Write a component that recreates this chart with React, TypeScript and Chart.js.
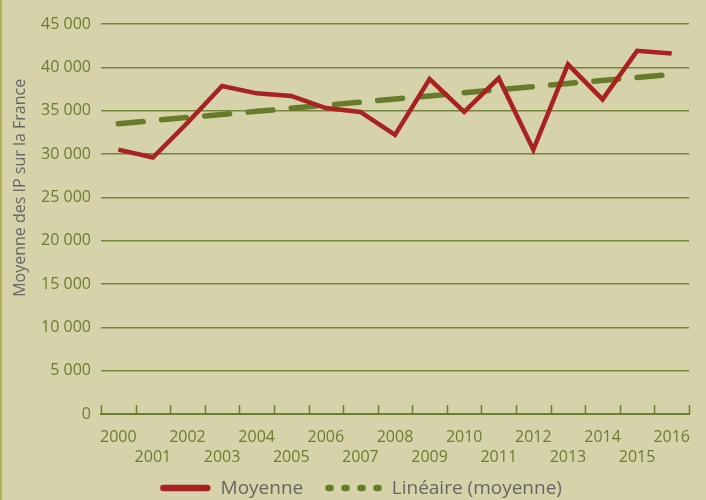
import React, { useEffect, useRef } from "react";
import { Chart, registerables } from "chart.js";

Chart.register(...registerables);

const years = ["2000","2001","2002","2003","2004","2005","2006","2007","2008","2009","2010","2011","2012","2013","2014","2015","2016"];
const moyenne = [30500, 29600, 33600, 37850, 37000, 36700, 35300, 34850, 32200, 38650, 34850, 38750, 30500, 40350, 36300, 41900, 41600];
const lineaire = [33500, 33860, 34210, 34570, 34920, 35280, 35640, 35990, 36350, 36700, 37060, 37420, 37770, 38130, 38490, 38840, 39200];
const yTicksMax = 45000;
const yTicksStep = 5000;
const seriesNames = ["Moyenne", "Linéaire (moyenne)"];
const yTitle = "Moyenne des IP sur la France";

const BG = "#d6d3aa";
const OLIVE = "#6b7d2e";
const GRID = "#74843c";
const RED = "#a82222";
const GREEN = "#677b2a";
const GREY = "#666666";
const FONT = "'Open Sans', 'Noto Sans', sans-serif";

const fmt = (v: number) => String(v).replace(/\B(?=(\d{3})+(?!\d))/g, " ");

export default function App() {
  const ref = useRef<HTMLCanvasElement | null>(null);
  useEffect(() => {
    document.body.style.margin = "0";
    const canvas = ref.current!;
    const deco = {
      id: "deco",
      beforeDraw(chart: any) {
        const { ctx } = chart;
        ctx.save();
        ctx.fillStyle = BG;
        ctx.fillRect(0, 0, chart.width, chart.height);
        ctx.fillStyle = "#b2b259";
        ctx.fillRect(0, 0, 2, chart.height);
        ctx.restore();
      },
      afterDraw(chart: any) {
        const { ctx, chartArea } = chart;
        const xs = chart.scales.x;
        ctx.save();
        // upward tick marks at category boundaries
        ctx.strokeStyle = OLIVE;
        ctx.lineWidth = 1.5;
        for (let i = 0; i <= years.length; i++) {
          const x = Math.round(xs.getPixelForValue(i - 0.5)) + 0.5;
          ctx.beginPath();
          ctx.moveTo(x, chartArea.bottom);
          ctx.lineTo(x, chartArea.bottom - 9);
          ctx.stroke();
        }
        // y axis title
        ctx.save();
        ctx.fillStyle = GREY;
        ctx.font = `16px ${FONT}`;
        ctx.textAlign = "center";
        ctx.textBaseline = "middle";
        ctx.translate(20, chartArea.top + (chartArea.bottom - chartArea.top) * 0.42);
        ctx.rotate(-Math.PI / 2);
        ctx.fillText(yTitle, 0, 0);
        ctx.restore();
        // legend
        const ds = chart.data.datasets;
        ctx.font = `19px ${FONT}`;
        ctx.textBaseline = "middle";
        ctx.textAlign = "left";
        const sampleW = 44;
        const capPad = 3.25;
        const textGap = 10;
        const itemGap = 22;
        const w0 = ctx.measureText(ds[0].label).width;
        const w1 = ctx.measureText(ds[1].label).width;
        const sample1W = 50;
        const total = capPad + sampleW + capPad + textGap + w0 + itemGap + capPad + sample1W + capPad + textGap + w1;
        let x = chart.width / 2 + 8 - total / 2;
        const y = 488;
        ctx.lineCap = "round";
        ctx.lineWidth = 6.5;
        ctx.strokeStyle = ds[0].borderColor;
        ctx.setLineDash([]);
        ctx.beginPath();
        ctx.moveTo(x + capPad, y);
        ctx.lineTo(x + capPad + sampleW, y);
        ctx.stroke();
        x += capPad * 2 + sampleW + textGap;
        ctx.fillStyle = GREY;
        ctx.fillText(ds[0].label, x, y + 1);
        x += w0 + itemGap;
        ctx.strokeStyle = ds[1].borderColor;
        ctx.setLineDash([2, 14]);
        ctx.beginPath();
        ctx.moveTo(x + capPad, y);
        ctx.lineTo(x + capPad + sample1W, y);
        ctx.stroke();
        ctx.setLineDash([]);
        x += capPad * 2 + sample1W + textGap;
        ctx.fillText(ds[1].label, x, y + 1);
        ctx.restore();
      },
    };
    const chart = new Chart(canvas, {
      type: "line",
      data: {
        labels: years,
        datasets: [
          {
            label: seriesNames[0],
            data: moyenne,
            borderColor: RED,
            backgroundColor: RED,
            borderWidth: 4.5,
            pointRadius: 0,
            tension: 0,
            borderJoinStyle: "miter",
          },
          {
            label: seriesNames[1],
            data: lineaire,
            borderColor: GREEN,
            backgroundColor: GREEN,
            borderWidth: 5.5,
            borderDash: [25, 18.4],
            borderCapStyle: "round",
            pointRadius: 0,
            tension: 0,
          },
        ],
      },
      plugins: [deco],
      options: {
        responsive: false,
        animation: false,
        layout: { padding: { left: 0, right: 17, top: 24, bottom: 0 } },
        plugins: {
          tooltip: { enabled: false },
          legend: { display: false },
        },
        scales: {
          x: {
            offset: true,
            grid: { display: false, drawTicks: false },
            border: { display: true, color: OLIVE, width: 2 },
            ticks: {
              autoSkip: false,
              maxRotation: 0,
              minRotation: 0,
              padding: 13,
              color: OLIVE,
              font: { family: FONT, size: 16, lineHeight: 1.25 },
              callback: (_v: any, i: number) => (i % 2 === 0 ? [years[i], ""] : ["", years[i]]),
            },
            afterFit: (s: any) => { s.height = 86; },
          },
          y: {
            min: 0,
            max: yTicksMax,
            grid: { color: GRID, lineWidth: 1.5, drawTicks: false },
            border: { display: false },
            ticks: {
              stepSize: yTicksStep,
              padding: 10,
              color: OLIVE,
              font: { family: FONT, size: 16 },
              callback: (v: any) => fmt(Number(v)),
            },
            afterFit: (s: any) => { s.width = 101; },
          },
        },
      },
    });
    return () => chart.destroy();
  }, []);
  return (
    <div style={{ width: 706, height: 500 }}>
      <canvas ref={ref} width={706} height={500} />
    </div>
  );
}
